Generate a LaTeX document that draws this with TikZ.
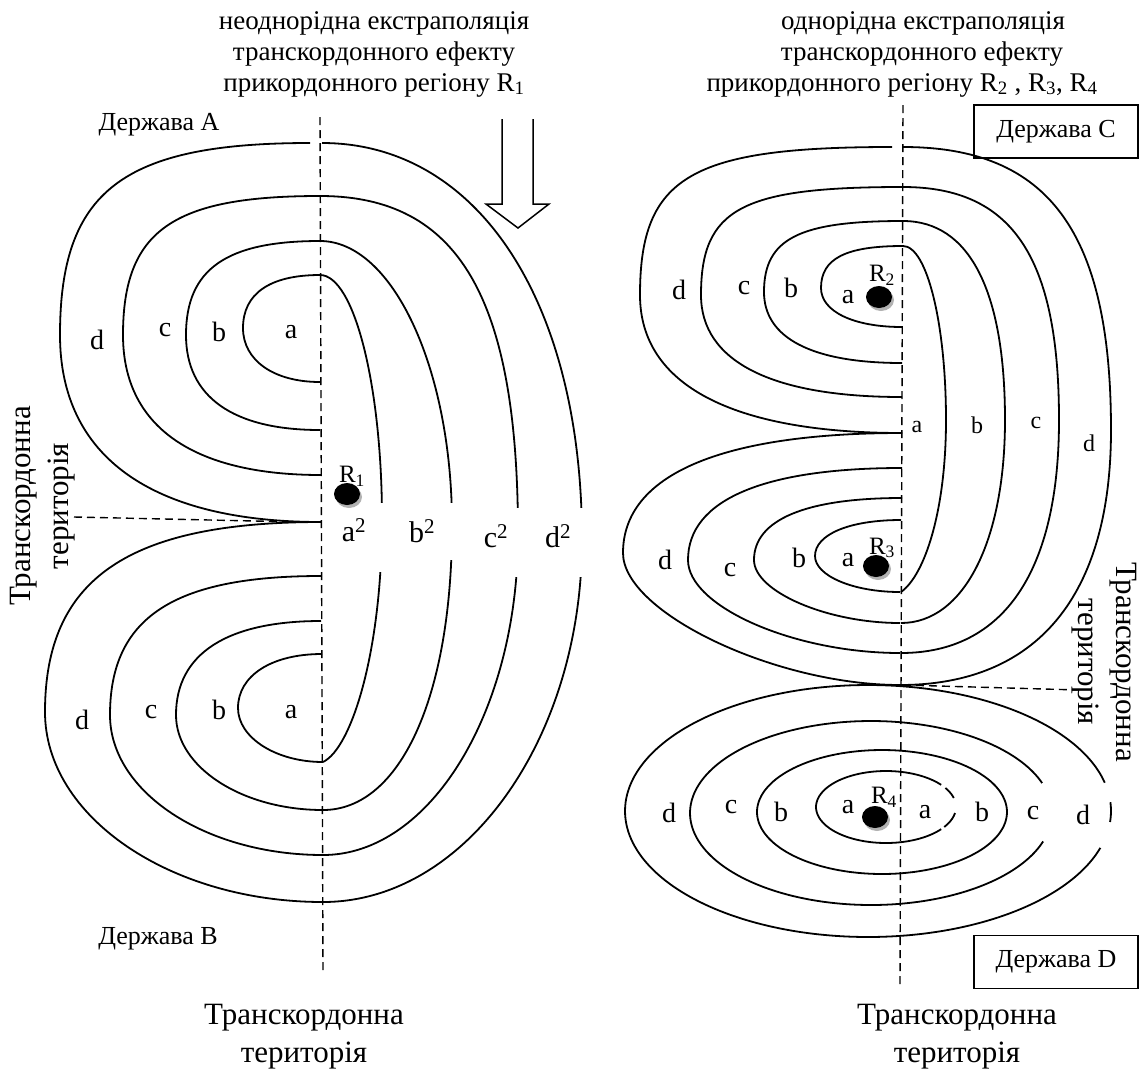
\documentclass[tikz,border=0pt]{standalone}
\usepackage{fontspec}
\setmainfont{Liberation Serif}
\newcommand{\hcurve}[8]{\draw[curve] (#1,#2) .. controls ({#1+#7*(#3-#1)},#2) and (#3,{#4-#7*(#4-#2)}) .. (#3,#4) .. controls (#3,{#4+#8*(#6-#4)}) and ({#5+#8*(#3-#5)},#6) .. (#5,#6);}
\newcommand{\withgap}[3]{\begin{scope}\clip (0,0) rectangle (1144,#1); #3\end{scope}\begin{scope}\clip (0,#2) rectangle (1144,1072); #3\end{scope}}
\begin{document}
\begin{tikzpicture}[x=1pt,y=-1pt,
  curve/.style={line width=1.8pt},
  border/.style={line width=1.4pt, dash pattern=on 8pt off 5pt},
  ttl/.style={font=\fontsize{27}{31}\selectfont, inner sep=0pt},
  lbl/.style={font=\fontsize{28}{32}\selectfont, inner sep=0pt},
  sml/.style={font=\fontsize{24}{28}\selectfont, inner sep=0pt},
  sup/.style={font=\fontsize{30}{34}\selectfont, inner sep=0pt},
  rl/.style={font=\fontsize{25}{29}\selectfont, inner sep=0pt},
  big/.style={font=\fontsize{31}{38}\selectfont, inner sep=0pt, align=center},
  boxed/.style={draw, line width=1.4pt, minimum width=164pt, minimum height=53pt, font=\fontsize{26}{30}\selectfont},
  dotsh/.style={fill=black!30},
  dotf/.style={fill=black}]
\useasboundingbox (0,0) rectangle (1144,1072);

% ---------------- left diagram ----------------
\draw[border] (320,117) -- (323,972);
% upper-left halves
\hcurve{310}{143}{60}{335}{321}{522}{0.75}{0.65}
\hcurve{320}{196}{123}{335}{321}{475}{0.75}{0.65}
\hcurve{320}{241}{186}{335}{320}{430}{0.7}{0.65}
\hcurve{320}{275}{243}{328}{320}{382}{0.65}{0.6}
% lower-left halves
\hcurve{321}{522}{45}{712}{323}{902}{0.7}{0.55}
\hcurve{321}{576}{110}{715}{323}{855}{0.7}{0.55}
\hcurve{321}{621}{176}{715}{323}{810}{0.65}{0.55}
\hcurve{322}{654}{238}{708}{323}{762}{0.6}{0.55}
% right big curves with gaps
\withgap{502}{572}{\draw[curve] (320,275) .. controls (354,275) and (382,385) .. (382,520) .. controls (382,650) and (352,748) .. (323,762);}
\withgap{502}{560}{\hcurve{320}{241}{452}{525}{323}{810}{0.55}{0.6}}
\withgap{507}{577}{\hcurve{320}{196}{518}{535}{323}{855}{0.7}{0.55}}
\withgap{507}{577}{\hcurve{322}{143}{582}{540}{323}{902}{0.6}{0.55}}
% arrow
\draw[line width=1.5pt, line join=miter] (502,119) -- (502,204) -- (486,204) -- (518,228) -- (549,204) -- (533,204) -- (533,119);
% dot R1
\fill[dotsh] (349,497) ellipse [x radius=13, y radius=11];
\fill[dotf] (347,494) ellipse [x radius=13, y radius=11];
% transborder line left
\draw[border] (74,517) -- (300,522);

\node[ttl, anchor=base] (tl1) at (374,29) {неоднорідна екстраполяція};
\node[ttl, anchor=base] (tl2) at (374,60) {транскордонного ефекту};
\node[ttl, anchor=base] (tl3) at (374,91) {прикордонного регіону R\textsubscript{1}};
\node[lbl, font=\fontsize{26}{30}\selectfont, anchor=base] (sa) at (159,130) {Держава А};
\node[lbl, font=\fontsize{26}{30}\selectfont, anchor=base] (sb) at (158,944) {Держава В};
\node[big, rotate=90] (trl) at (43,506) {Транскордонна\\територія};
\node[big] (tbl) at (304,1037) {Транскордонна\\територія};

\node[lbl] (ul-d) at (97,340) {d};
\node[lbl] (ul-c) at (165,330) {c};
\node[lbl] (ul-b) at (219,332) {b};
\node[lbl] (ul-a) at (291,332) {a};
\node[lbl] (ll-d) at (82,720) {d};
\node[lbl] (ll-c) at (151,712) {c};
\node[lbl] (ll-b) at (219,710) {b};
\node[lbl] (ll-a) at (291,712) {a};
\node[sup] (r-a) at (354,530) {a\textsuperscript{2}};
\node[sup] (r-b) at (422,531) {b\textsuperscript{2}};
\node[sup] (r-c) at (496,536) {c\textsuperscript{2}};
\node[sup] (r-d) at (558,536) {d\textsuperscript{2}};
\node[rl] (R1) at (352,476) {R\textsubscript{1}};

% ---------------- right diagram ----------------
\draw[border] (903,105) -- (900,987);
% R2 left halves
\hcurve{892}{147}{640}{295}{902}{433}{0.8}{0.65}
\hcurve{903}{187}{701}{295}{902}{397}{0.8}{0.65}
\hcurve{903}{221}{764}{292}{902}{363}{0.75}{0.65}
\hcurve{903}{246}{821}{288}{902}{327}{0.7}{0.6}
% R3 left halves
\hcurve{902}{433}{623}{553}{900}{685}{0.65}{0.45}
\hcurve{902}{468}{688}{560}{900}{653}{0.65}{0.5}
\hcurve{902}{498}{754}{560}{900}{623}{0.65}{0.5}
\hcurve{901}{520}{815}{556}{900}{592}{0.6}{0.55}
% right curves
\draw[curve] (903,246) .. controls (927,246) and (946,324) .. (946,420) .. controls (946,510) and (925,575) .. (901,592);
\hcurve{903}{221}{1005}{420}{901}{623}{0.65}{0.6}
\hcurve{903}{187}{1059}{420}{901}{653}{0.7}{0.65}
\hcurve{903}{147}{1111}{430}{900}{685}{0.7}{0.65}
% R4 ellipses
\draw[curve] plot[smooth, domain=17:347, samples=90, variable=\t] ({868+243*cos(\t)},{811+126*sin(\t)});
\draw[curve] plot[smooth, domain=-4:5, samples=5, variable=\t] ({868+243*cos(\t)},{811+126*sin(\t)});
\draw[curve] plot[smooth, domain=18:341, samples=90, variable=\t] ({871+181*cos(\t)},{813+92*sin(\t)});
\draw[curve] plot[smooth cycle, domain=0:355, samples=72, variable=\t] ({882+125*cos(\t)},{812+62*sin(\t)});
\draw[curve] plot[smooth, domain=38:322, samples=60, variable=\t] ({886+70*cos(\t)},{807+36*sin(\t)});
\draw[curve] plot[smooth, domain=-32:-14.5, samples=6, variable=\t] ({886+70*cos(\t)},{807+36*sin(\t)});
\draw[curve] plot[smooth, domain=9.6:33.7, samples=6, variable=\t] ({886+70*cos(\t)},{807+36*sin(\t)});
% dots
\fill[dotsh] (881,300) ellipse [x radius=13, y radius=11];
\fill[dotf] (879,297) ellipse [x radius=13, y radius=11];
\fill[dotsh] (878,569) ellipse [x radius=13, y radius=11];
\fill[dotf] (876,566) ellipse [x radius=13, y radius=11];
\fill[dotsh] (877,820) ellipse [x radius=13, y radius=11];
\fill[dotf] (875,817) ellipse [x radius=13, y radius=11];
% transborder line right
\draw[border] (903,685) -- (1079,690);

\node[ttl, anchor=base] (tr1) at (923,29) {однорідна екстраполяція};
\node[ttl, anchor=base] (tr2) at (922,60) {транскордонного ефекту};
\node[ttl, anchor=base] (tr3) at (902,91) {прикордонного регіону R\textsubscript{2} , R\textsubscript{3}, R\textsubscript{4}};
\node[boxed] (sc) at (1056,131.5) {Держава С};
\node[boxed] (sd) at (1056,962) {Держава D};
\node[big, rotate=-90] (trr) at (1104,662) {Транскордонна\\територія};
\node[big] (tbr) at (957,1037) {Транскордонна\\територія};

\node[lbl] (r2-d) at (679,290) {d};
\node[lbl] (r2-c) at (744,288) {c};
\node[lbl] (r2-b) at (791,288) {b};
\node[lbl] (r2-a) at (848,297) {a};
\node[rl] (R2) at (882,275) {R\textsubscript{2}};
\node[lbl] (r3-d) at (665,560) {d};
\node[lbl] (r3-c) at (730,570) {c};
\node[lbl] (r3-b) at (799,558) {b};
\node[lbl] (r3-a) at (848,560) {a};
\node[rl] (R3) at (882,548) {R\textsubscript{3}};
\node[sml] (m-a) at (917,427) {a};
\node[sml] (m-b) at (977,425) {b};
\node[sml] (m-c) at (1036,423) {c};
\node[sml] (m-d) at (1089,443) {d};
\node[lbl] (r4-d) at (669,813) {d};
\node[lbl] (r4-c) at (731,807) {c};
\node[lbl] (r4-b) at (781,812) {b};
\node[lbl] (r4-a) at (848,807) {a};
\node[rl] (R4) at (884,797) {R\textsubscript{4}};
\node[lbl] (r4-a2) at (925,812) {a};
\node[lbl] (r4-b2) at (982,812) {b};
\node[lbl] (r4-c2) at (1033,813) {c};
\node[lbl] (r4-d2) at (1083,815) {d};
\end{tikzpicture}
\end{document}
